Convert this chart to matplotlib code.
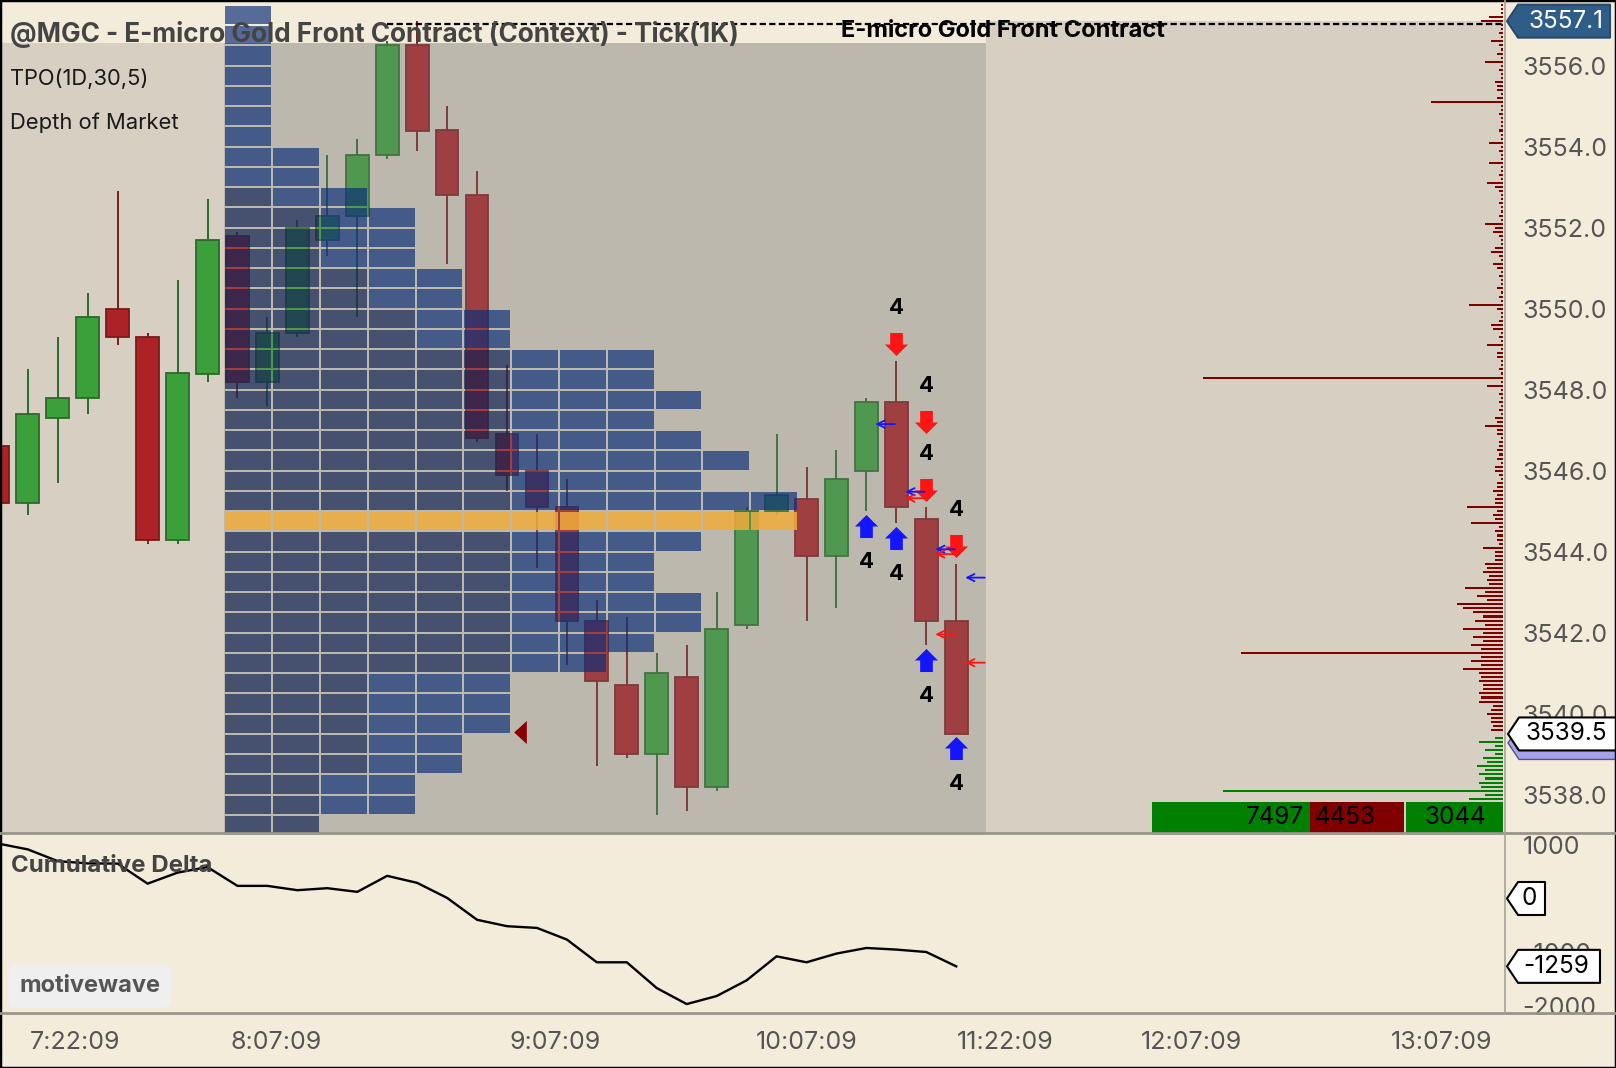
import numpy as np
import matplotlib.pyplot as plt
from matplotlib.patches import Rectangle, Polygon
from matplotlib.path import Path
from matplotlib.lines import Line2D

plt.rcParams['font.family'] = ['Inter', 'DejaVu Sans']

# ---------------- data ----------------
# 1K tick bars, oldest first
opens = [3546.6, 3545.2, 3547.3, 3547.8, 3550.0, 3549.3, 3544.3, 3548.4, 3551.8, 3548.2,
         3549.4, 3551.7, 3552.3, 3553.8, 3556.5, 3554.4, 3552.8, 3546.9, 3546.0, 3545.1,
         3542.3, 3540.7, 3539.0, 3540.9, 3538.2, 3542.2, 3545.0, 3545.3, 3543.9, 3546.0,
         3547.7, 3544.8, 3542.3]
highs = [3546.7, 3548.5, 3549.3, 3550.4, 3552.9, 3549.4, 3550.7, 3552.7, 3551.9, 3549.8,
         3552.2, 3553.8, 3554.2, 3556.6, 3557.1, 3555.0, 3553.4, 3548.6, 3546.9, 3545.8,
         3542.8, 3542.4, 3541.5, 3541.7, 3543.0, 3545.1, 3546.9, 3546.1, 3546.5, 3547.8,
         3548.7, 3545.1, 3543.7]
lows = [3545.1, 3544.9, 3545.7, 3547.4, 3549.1, 3544.2, 3544.2, 3548.2, 3547.8, 3547.6,
        3549.3, 3551.3, 3549.8, 3553.7, 3553.9, 3551.1, 3546.7, 3545.5, 3543.6, 3541.2,
        3538.7, 3538.9, 3537.5, 3537.6, 3538.1, 3542.1, 3544.9, 3542.3, 3542.6, 3545.0,
        3544.7, 3541.7, 3539.5]
closes = [3545.2, 3547.4, 3547.8, 3549.8, 3549.3, 3544.3, 3548.4, 3551.7, 3548.2, 3549.4,
          3552.0, 3552.3, 3553.8, 3556.5, 3554.4, 3552.8, 3546.8, 3545.9, 3545.1, 3542.3,
          3540.8, 3539.0, 3541.0, 3538.2, 3542.1, 3545.0, 3545.4, 3543.9, 3545.8, 3547.7,
          3545.1, 3542.3, 3539.5]
cum_delta = [1020, 911, 693, 651, 647, 275, 480, 582, 234, 234,
             154, 191, 123, 420, 290, 11, -395, -514, -546, -762,
             -1184, -1184, -1662, -1959, -1810, -1519, -1073, -1184, -1022, -918,
             -948, -993, -1259]

# TPO(1D,30,5) profile, rows of 0.5 from 3537.0 up to 3557.0
tpo_row_low = np.arange(3537.0, 3557.01, 0.5)
tpo_counts = [2, 4, 4, 5, 5, 6, 6, 6, 8, 9, 10, 10, 9, 9, 10, 12, 12, 10, 11, 10,
              9, 10, 9, 9, 6, 6, 5, 5, 4, 4, 4, 3, 2, 2, 1, 1, 1, 1, 1, 1, 1]
tpo_early = [2, 2, 2, 3, 3, 3, 3, 3, 6, 6, 6, 6, 6, 6, 6, 6, 6, 6, 6, 6,
             6, 6, 6, 6, 4, 4, 3, 3, 2, 2, 2, 1, 0, 0, 0, 0, 0, 0, 0, 0, 0]
tpo_poc = 3544.5

# depth of market, 0.1 ladder
ask_start = 3539.6
ask_sizes = [6, 5, 6, 6, 8, 6, 5, 12, 11, 12,
             10, 10, 12, 11, 12, 20, 11, 16, 11, 131,
             11, 16, 10, 15, 10, 20, 9, 14, 10, 15,
             20, 23, 8, 13, 9, 19, 7, 8, 7, 10,
             8, 9, 4, 4, 4, 10, 2, 3, 3, 4,
             2, 16, 4, 5, 3, 18, 4, 4, 3, 5,
             3, 3, 1, 2, 4, 4, 1, 3, 2, 3,
             2, 2, 1, 3, 3, 9, 3, 4, 1, 2,
             1, 2, 1, 2, 1, 8, 1, 150, 1, 2,
             1, 1, 3, 3, 1, 8, 1, 2, 1, 5,
             6, 2, 1, 1, 3, 17, 1, 2, 1, 3,
             1, 1, 2, 1, 3, 5, 1, 2, 6, 4,
             1, 1, 2, 5, 4, 9, 1, 2, 1, 1,
             2, 1, 1, 2, 4, 8, 1, 2, 1, 1,
             7, 1, 1, 2, 1, 7, 1, 1, 2, 1,
             1, 1, 2, 1, 1, 36, 3, 1, 3, 3,
             4, 1, 1, 2, 1, 9, 1, 3, 1, 2,
             6, 1, 2, 1, 1, 11, 7, 1, 1, 1]
bid_start = 3539.4
bid_sizes = [4, 12, 4, 9, 4, 10, 8, 13, 9, 12, 9, 12, 11, 140, 9, 17]
ask_total = 4453
bid_total = 3044

# signals (bar index, price)
sig_dn_bar = [30, 31, 31, 32]
sig_dn_price = [3549.13, 3547.21, 3545.52, 3544.15]
sig_dn_count = [4, 4, 4, 4]
sig_up_bar = [29, 30, 31, 32]
sig_up_price = [3544.63, 3544.33, 3541.33, 3539.15]
sig_up_count = [4, 4, 4, 4]
mark_blue_bar = [29, 30, 31, 32]
mark_blue_price = [3547.15, 3545.48, 3544.06, 3543.36]
mark_red_bar = [30, 31, 31, 32]
mark_red_price = [3545.32, 3543.94, 3541.96, 3541.26]

time_pos = [2.58, 9.29, 18.6, 27.02, 33.63, 39.84, 48.19]
time_labels = ['7:22:09', '8:07:09', '9:07:09', '10:07:09', '11:22:09', '12:07:09', '13:07:09']

# ---------------- layout ----------------
W, H = 1616, 1068
BAR_PX = 29.95
PRICE_PX = 40.5
CREAM = '#f4ecdb'
BG = '#d6cfc2'


def fx(px):
    return px / W


def fy(py):
    return 1 - py / H


fig = plt.figure(figsize=(W / 100, H / 100), dpi=100)
fig.patch.set_facecolor(CREAM)

ax = fig.add_axes([0, fy(833), fx(1503), 833 / H])
ax2 = fig.add_axes([0, fy(1013.3), fx(1503), 180.3 / H])

xlo, xhi = 2.15 / BAR_PX, (1503 + 2.15) / BAR_PX
ylo, yhi = 3556 - (833 - 65.7) / PRICE_PX, 3556 + 65.7 / PRICE_PX
ax.set_xlim(xlo, xhi)
ax.set_ylim(ylo, yhi)
ax.set_facecolor(CREAM)
for a in (ax, ax2):
    for s in a.spines.values():
        s.set_visible(False)

n = len(closes)
sess_high = max(highs)
last = closes[-1]
tpo_x0 = 7.567
col_w = 1.596
region_r = n

# backgrounds
ax.add_patch(Rectangle((xlo, ylo), region_r - xlo, 3556.55 - ylo, color=BG, lw=0, zorder=0.1))
ax.add_patch(Rectangle((region_r, ylo), xhi - region_r, sess_high - ylo, color=BG, lw=0, zorder=0.1))

# candles
for i in range(n):
    o, h, l, c = opens[i], highs[i], lows[i], closes[i]
    if c >= o:
        fc, ec = '#3ba03a', '#2b6a2b'
    else:
        fc, ec = '#ad2226', '#7a1c1c'
    ax.vlines(i, l, h, color=ec, lw=1.4, zorder=2)
    ax.add_patch(Rectangle((i - 0.38, min(o, c)), 0.76, max(abs(c - o), 0.03),
                           fc=fc, ec=ec, lw=1.3, zorder=2.1))

# context shading over the session
ax.add_patch(Rectangle((tpo_x0, ylo), region_r - tpo_x0, 3556.55 - ylo,
                       color='#828582', alpha=0.3, lw=0, zorder=3))

# TPO profile
gx, gy = 2 / BAR_PX, 2 / PRICE_PX
for low, cnt, early in zip(tpo_row_low, tpo_counts, tpo_early):
    for k in range(cnt):
        if abs(low - tpo_poc) < 1e-6:
            col, al = '#f0ac3c', 0.85
        elif k < early:
            col, al = '#0c1e50', 0.67
        else:
            col, al = '#0a2c78', 0.67
        ax.add_patch(Rectangle((tpo_x0 + k * col_w + gx / 2, low + gy / 2), col_w - gx, 0.5 - gy,
                               fc=col, alpha=al, lw=0, zorder=4))

# close marker on profile
tri = Path([(-0.55, 0), (0.55, -1), (0.55, 1), (-0.55, 0)],
           [Path.MOVETO, Path.LINETO, Path.LINETO, Path.CLOSEPOLY])
row_i = int((last - tpo_row_low[0]) // 0.5)
ax.plot(tpo_x0 + tpo_counts[row_i] * col_w + 0.3, last + 0.05, marker=tri, ms=16.6,
        color='#8b0000', mew=0, zorder=5)

# session high line
ax.hlines(sess_high - 0.07, 13, xhi, colors='black', linestyles=(0, (2.8, 1.5)), lw=1.6, zorder=5)

# signals
up_path = Path([(-0.55, -1), (0.55, -1), (0.55, 0), (1, 0), (0, 1), (-1, 0), (-0.55, 0), (-0.55, -1)],
               [Path.MOVETO] + [Path.LINETO] * 6 + [Path.CLOSEPOLY])
dn_path = Path(up_path.vertices * np.array([1, -1]), up_path.codes)
ax.scatter(sig_dn_bar, sig_dn_price, marker=dn_path, s=16.6 ** 2, color='#ff1414', lw=0, zorder=7)
ax.scatter(sig_up_bar, sig_up_price, marker=up_path, s=16.6 ** 2, color='#1414ff', lw=0, zorder=7)
for b, p, cnum in zip(sig_dn_bar, sig_dn_price, sig_dn_count):
    ax.annotate(str(cnum), (b, p), xytext=(0, 26), textcoords='offset points', ha='center',
                va='center', fontsize=16, fontweight='bold', color='black', zorder=7)
for b, p, cnum in zip(sig_up_bar, sig_up_price, sig_up_count):
    ax.annotate(str(cnum), (b, p), xytext=(0, -26), textcoords='offset points', ha='center',
                va='center', fontsize=16, fontweight='bold', color='black', zorder=7)
for bars, prices, col in ((mark_blue_bar, mark_blue_price, '#1414ff'),
                          (mark_red_bar, mark_red_price, '#ff1414')):
    for b, p in zip(bars, prices):
        ax.annotate('', xy=(b + 0.3, p), xytext=(b + 0.95, p),
                    arrowprops=dict(arrowstyle='->', color=col, lw=1.3, mutation_scale=13,
                                    shrinkA=0, shrinkB=0), zorder=7)

# price axis
ax.set_xticks([])
ax.yaxis.tick_right()
ax.set_yticks(np.arange(3538, 3557, 2))
ax.set_yticklabels(['%.1f' % v for v in np.arange(3538, 3557, 2)])
ax.tick_params(axis='y', length=0, pad=14, labelsize=18, labelcolor='#555555')

# depth of market
axd = ax.twiny()
axd.set_xlim(1503 / 2, 0)
axd.set_ylim(ylo, yhi)
axd.axis('off')
ask_prices = ask_start + 0.1 * np.arange(len(ask_sizes))
bid_prices = bid_start - 0.1 * np.arange(len(bid_sizes))
axd.barh(ask_prices, ask_sizes, height=0.05, color='#800000', lw=0)
axd.barh(bid_prices, bid_sizes, height=0.05, color='#008000', lw=0)

for x_a, x_b, col in ((1151.7, 1310, '#008000'), (1310, 1404, '#800000'), (1406, 1503, '#008000')):
    fig.add_artist(Rectangle((fx(x_a), fy(833)), fx(x_b - x_a), (833 - 801.7) / H,
                             transform=fig.transFigure, color=col, lw=0))
fig.text(fx(1304), fy(817), str(ask_total + bid_total), ha='right', va='center', fontsize=17.5)
fig.text(fx(1315), fy(817), str(ask_total), ha='left', va='center', fontsize=17.5)
fig.text(fx(1455), fy(817), str(bid_total), ha='center', va='center', fontsize=17.5)

# cumulative delta panel
ax2.set_facecolor(CREAM)
ax2.set_xlim(xlo, xhi)
ax2.set_ylim(-2130, 1215)
ax2.plot(range(n), cum_delta, color='black', lw=1.7)
ax2.yaxis.tick_right()
ax2.set_yticks([1000, -1000, -2000])
ax2.set_yticklabels(['1000', '-1000', '-2000'])
ax2.tick_params(axis='y', length=0, pad=14, labelsize=18, labelcolor='#555555')
ax2.set_xticks(time_pos)
ax2.set_xticklabels(time_labels)
ax2.tick_params(axis='x', length=0, pad=13, labelsize=18, labelcolor='#555555')


# value tags on the right axis
def tag(axis, value, txt, x_l, x_r, face, edge, txt_col, txt_x, shadow=None):
    disp = axis.transData.transform((0, value))
    yc = fig.transFigure.inverted().transform(disp)[1]
    hh = 16.5 / H
    pts = [(fx(x_l), yc), (fx(x_l + 11), yc + hh), (fx(x_r), yc + hh),
           (fx(x_r), yc - hh), (fx(x_l + 11), yc - hh)]
    if shadow:
        sp = [(px, py - 9 / H) for px, py in pts]
        fig.add_artist(Polygon(sp, closed=True, transform=fig.transFigure, fc=shadow, ec='#555577', lw=1))
    fig.add_artist(Polygon(pts, closed=True, transform=fig.transFigure, fc=face, ec=edge, lw=1.5,
                           joinstyle='round'))
    fig.text(fx(txt_x), yc, txt, ha='center', va='center', fontsize=17.5, color=txt_col)


tag(ax, sess_high, '%.1f' % sess_high, 1507, 1610, '#2f5d88', '#2a4a6a', 'white', 1566)
tag(ax, last, '%.1f' % last, 1508, 1625, 'white', 'black', 'black', 1566, shadow='#a3a3ee')
tag(ax2, 0, '0', 1507, 1545, 'white', 'black', 'black', 1529)
tag(ax2, cum_delta[-1], str(cum_delta[-1]), 1507, 1600, 'white', 'black', 'black', 1556)

# titles
fig.text(fx(10), fy(35), '@MGC - E-micro Gold Front Contract (Context) - Tick(1K)',
         ha='left', va='center', fontsize=18.8, fontweight='bold', color='#444444')
fig.text(fx(1003), fy(31), 'E-micro Gold Front Contract', ha='center', va='center',
         fontsize=17, fontweight='bold', color='black')
fig.text(fx(10), fy(79), 'TPO(1D,30,5)', ha='left', va='center', fontsize=15.8, color='#1a1a1a')
fig.text(fx(10), fy(123), 'Depth of Market', ha='left', va='center', fontsize=15.8, color='#1a1a1a')
fig.text(fx(11), fy(866), 'Cumulative Delta', ha='left', va='center', fontsize=17.3,
         fontweight='bold', color='#444444')
fig.text(fx(90), fy(986), 'motivewave', ha='center', va='center', fontsize=17, fontweight='bold',
         color='#555555', bbox=dict(boxstyle='round,pad=0.45,rounding_size=0.3', fc='#efefef', ec='none'))

# frame lines
for yy in (833, 1013.3):
    fig.add_artist(Line2D([0, 1], [fy(yy), fy(yy)], transform=fig.transFigure, color='#9a958b', lw=2))
fig.add_artist(Line2D([fx(1505), fx(1505)], [fy(0), fy(1013)], transform=fig.transFigure,
                      color='#a8a39a', lw=1.2))
fig.add_artist(Rectangle((0, 0), 1, 1, transform=fig.transFigure, fill=False, ec='black', lw=2.5))

fig.savefig('out.png', dpi=100, facecolor=fig.get_facecolor())
